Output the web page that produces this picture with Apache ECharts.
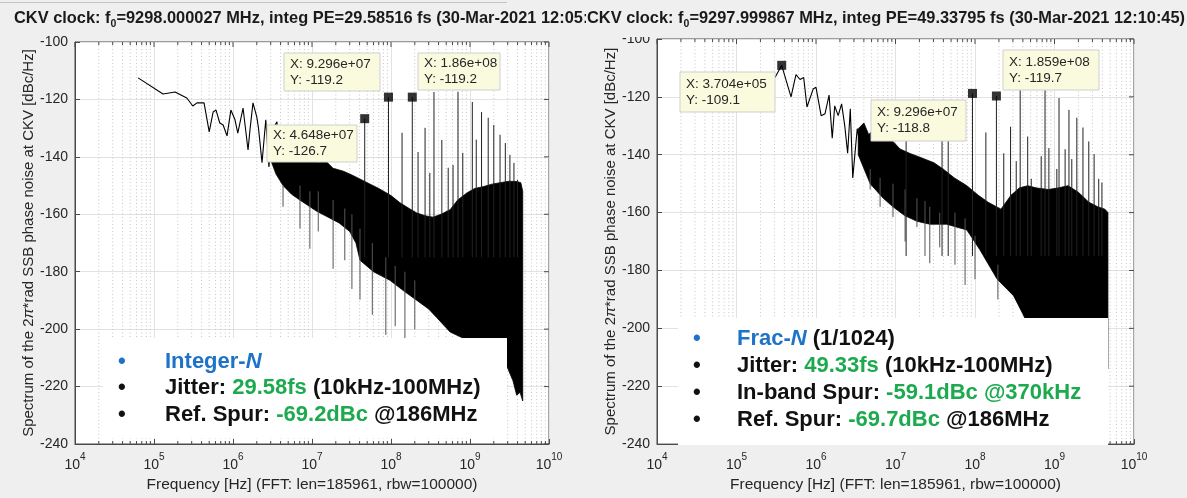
<!DOCTYPE html>
<html><head><meta charset="utf-8">
<script src="https://cdn.jsdelivr.net/npm/echarts@6/dist/echarts.min.js"></script>
<style>html,body{margin:0;padding:0;background:#efefef}#c{width:1187px;height:498px}</style>
</head><body><div id="c"></div>
<script>
// ---------- data (frequency in Hz, value in dBc/Hz) ----------
const xTickExponents = [4, 5, 6, 7, 8, 9, 10];
const minorMultipliers = [2, 3, 4, 5, 6, 7, 8, 9];
const yTickValues = [-240, -220, -200, -180, -160, -140, -120, -100];

// Integer-N (left)
const lowLineL = [[6.3e4,-112.5],[1.3e5,-118.1],[1.85e5,-117.4],[2.6e5,-119.5],[3.1e5,-122.3],[3.5e5,-121.2],[4.3e5,-121.2],[5.0e5,-131.3],[5.6e5,-124.4],[6.1e5,-123.7],[6.8e5,-128.2],[7.5e5,-128.9],[8.4e5,-132.7],[9.4e5,-123.7],[1.06e6,-127.1],[1.15e6,-131.7],[1.34e6,-123],[1.55e6,-137.6],[1.64e6,-130.6],[1.79e6,-121.2],[2.0e6,-126.1],[2.1e6,-129.9],[2.33e6,-142],[2.6e6,-127.1],[2.85e6,-143.5],[3.1e6,-131],[3.6e6,-127.8],[3.9e6,-145]];
const bandTopL = [[2.9e6,-136],[3.4e6,-134],[4.0e6,-139],[4.6e6,-136],[5.5e6,-140],[7e6,-139],[9e6,-141],[1.2e7,-142],[1.5e7,-141.5],[1.85e7,-144],[2.5e7,-145],[3.3e7,-146.5],[5e7,-149],[7e7,-151],[1e8,-153.5],[1.3e8,-156],[1.7e8,-158],[2.1e8,-159.5],[2.7e8,-160.5],[3.4e8,-161],[4.3e8,-160],[5.6e8,-158.4],[7e8,-155],[9.2e8,-152.5],[1.15e9,-151],[1.46e9,-150.4],[1.9e9,-149.5],[2.4e9,-149],[3.1e9,-148.5],[3.9e9,-148.6],[4.4e9,-149],[4.65e9,-152]];
const bandBotL = [[2.9e6,-140],[3.5e6,-146],[4.3e6,-150],[5.5e6,-153],[7e6,-155],[9e6,-157],[1.16e7,-159],[1.6e7,-161],[2.2e7,-163],[3e7,-166],[3.6e7,-170],[4.05e7,-176],[6e7,-180],[9.7e7,-183],[1.5e8,-187],[2.13e8,-190],[3e8,-193],[3.8e8,-196],[5.6e8,-201],[8e8,-203],[1.23e9,-204],[1.8e9,-207],[2.4e9,-210],[2.94e9,-213],[3.5e9,-218],[3.9e9,-223],[4.3e9,-222],[4.65e9,-225]];
const downSpikesL = [[4.3e6,-150,-157.4],[7.05e6,-150,-165],[9.4e6,-152,-172],[1.2e7,-152,-166],[1.85e7,-155,-179],[2.6e7,-158,-176],[3.2e7,-160,-186],[4.05e7,-165,-189.7],[5.8e7,-170,-195],[8.6e7,-175,-202],[1.13e8,-178,-199],[1.5e8,-180,-203.6],[2.0e8,-183,-200]];
const spursL = [[4.648e7,-126.7],[9.296e7,-119.2],[1.38e8,-131.6],[1.86e8,-119.2],[2.2e8,-138.3],[2.7e8,-129.9],[3.1e8,-145.6],[3.5e8,-117.4],[4.4e8,-134.1],[5.3e8,-143.8],[6.1e8,-142.8],[7.05e8,-117.4],[8.1e8,-138.6],[1.07e9,-120.9],[1.2e9,-134],[1.4e9,-124.4],[1.7e9,-126.4],[2.0e9,-128.9],[2.4e9,-132.3],[2.8e9,-135.2],[3.2e9,-139.3],[3.6e9,-142.1],[4.0e9,-148]];
const markersL = [[4.648e7,-126.7],[9.296e7,-119.2],[1.86e8,-119.2]];

// Frac-N (right)
const lowLineR = [[3.05e5,-113.3],[3.704e5,-109.1],[4.85e5,-120],[5.6e5,-112.3],[6.3e5,-114],[7.0e5,-113.3],[7.7e5,-123.5],[9.2e5,-117.3],[1.0e6,-116.7],[1.16e6,-126.5],[1.3e6,-125.8],[1.46e6,-119.4],[1.6e6,-134.3],[1.72e6,-123.1],[1.9e6,-126.5],[2.1e6,-122.4],[2.3e6,-130],[2.5e6,-139.5],[2.7e6,-124.1],[2.9e6,-148],[3.3e6,-131],[3.6e6,-137]];
const bandTopR = [[3.4e6,-131],[4e6,-129],[4.6e6,-133],[5.5e6,-131],[6.5e6,-134],[7.5e6,-132.5],[9e6,-135],[1.14e7,-138],[1.5e7,-139.5],[2.1e7,-141],[3.05e7,-142.8],[4e7,-145],[5.5e7,-148],[7.9e7,-150.7],[1.1e8,-154],[1.46e8,-156.4],[2.12e8,-158.8],[2.84e8,-154],[3.6e8,-151.5],[4.6e8,-150.7],[6e8,-151.5],[8.3e8,-152],[1.1e9,-151.5],[1.48e9,-150.7],[2e9,-153],[2.7e9,-156.4],[3.5e9,-158],[4.3e9,-158.8],[4.7e9,-160]];
const bandBotR = [[3.4e6,-140],[4.8e6,-150],[7e6,-155],[9.3e6,-158],[1.3e7,-161],[1.86e7,-163],[2.7e7,-164],[4.4e7,-164],[7.9e7,-166],[1.15e8,-172.8],[1.9e8,-183],[3.05e8,-188.7],[4.0e8,-195],[6e8,-205],[1e9,-212],[2e9,-214],[3e9,-214],[4.7e9,-214]];
const downSpikesR = [[4.8e6,-145,-152],[6.4e6,-148,-158],[9.3e6,-150,-161.5],[1.32e7,-152,-170],[1.86e7,-155,-165],[2.35e7,-156,-175],[2.7e7,-158,-177.5],[3.6e7,-160,-172],[5.6e7,-160,-178],[7.5e7,-162,-185],[1.0e8,-168,-183],[1.94e8,-178,-190]];
const spursR = [[1.36e7,-134.7],[3.85e7,-134.7],[4.6e7,-134.7],[9.296e7,-118.8],[1.37e8,-132.3],[1.859e8,-119.7],[2.3e8,-139.5],[2.8e8,-130.3],[3.3e8,-142.2],[3.7e8,-117.7],[4.6e8,-133.7],[5.1e8,-148.3],[6.8e8,-140.5],[7.6e8,-117.7],[8.5e8,-137.7],[1.07e9,-144.9],[1.14e9,-120.4],[1.36e9,-138.1],[1.52e9,-124.5],[1.65e9,-141.5],[1.91e9,-127.2],[2.28e9,-130.6],[2.7e9,-135.4],[3.15e9,-139.8],[3.6e9,-148.3],[3.95e9,-149.6]];
const markersR = [[3.704e5,-109.1],[9.296e7,-118.8],[1.859e8,-119.7]];

const spurFloor = -175;

// ---------- helpers ----------
const FONT = '"Liberation Sans", Arial, Helvetica, sans-serif';
const lg = Math.log10;
const toXY = p => [lg(p[0]), p[1]];
const mctx = document.createElement('canvas').getContext('2d');
function textW(t, font) { mctx.font = font; return mctx.measureText(t).width; }

const minorX = [];
for (let e = 4; e < 10; e++) for (const m of minorMultipliers) minorX.push(lg(m * Math.pow(10, e)));
const Y_MIN = yTickValues[0], Y_MAX = yTickValues[yTickValues.length - 1];
const X_MIN = xTickExponents[0], X_MAX = xTickExponents[xTickExponents.length - 1];

const grids = [
  {left: 75, top: 42, width: 474, height: 402},
  {left: 657, top: 39, width: 477, height: 409}
];

function makeAxes(i) {
  const x = {
    type: 'value', gridIndex: i, min: X_MIN, max: X_MAX, interval: 1,
    axisLine: {show: true, lineStyle: {color: '#4a4a4a', width: 1}},
    axisTick: {show: true, inside: true, length: 5, lineStyle: {color: '#4a4a4a'}},
    splitLine: {show: true, lineStyle: {color: '#e2e2e2', width: 1}},
    axisLabel: {
      margin: 8, color: '#262626',
      formatter: v => '{b|10}{s|' + v + '}',
      rich: {
        b: {fontSize: 14, fontFamily: FONT, color: '#262626', lineHeight: 20, verticalAlign: 'bottom'},
        s: {fontSize: 10, fontFamily: FONT, color: '#262626', lineHeight: 12, verticalAlign: 'top'}
      }
    },
    name: 'Frequency [Hz] (FFT: len=185961, rbw=100000)',
    nameLocation: 'middle', nameGap: 30,
    nameTextStyle: {fontSize: 15.5, fontFamily: FONT, color: '#262626'}
  };
  const y = {
    type: 'value', gridIndex: i, min: Y_MIN, max: Y_MAX, interval: 20,
    axisLine: {show: true, lineStyle: {color: '#4a4a4a', width: 1}},
    axisTick: {show: true, inside: true, length: 5, lineStyle: {color: '#4a4a4a'}},
    splitLine: {show: true, lineStyle: {color: '#e2e2e2', width: 1}},
    axisLabel: {margin: 7, fontSize: 14, fontFamily: FONT, color: '#262626'},
    name: 'Spectrum of the 2{i|π}*rad SSB phase noise at CKV [dBc/Hz]',
    nameLocation: 'middle', nameGap: 37,
    nameTextStyle: {fontSize: 15, fontFamily: FONT, color: '#262626',
      rich: {i: {fontSize: 15, fontFamily: FONT, fontStyle: 'italic', color: '#262626'}}}
  };
  return {x, y};
}

function vLineSeries(i, data, color, z) {
  return {
    type: 'custom', xAxisIndex: i, yAxisIndex: i, silent: true, z: z, clip: true,
    data: data, encode: {x: 0, y: 1},
    renderItem: (params, api) => {
      const a = api.coord([api.value(0), api.value(1)]);
      const b = api.coord([api.value(0), api.value(2)]);
      return {type: 'line', shape: {x1: a[0], y1: a[1], x2: b[0], y2: b[1]}, style: {stroke: color, lineWidth: 1}};
    }
  };
}

function panelSeries(i, lowLine, top, bot, spurs, downSpikes, markers) {
  const poly = top.map(toXY).concat(bot.slice().reverse().map(toXY));
  return [
    { // minor dotted grid + minor ticks
      type: 'custom', xAxisIndex: i, yAxisIndex: i, silent: true, z: 1,
      data: minorX.map(v => [v, Y_MIN]),
      encode: {x: 0, y: 1},
      renderItem: (params, api) => {
        const xv = api.value(0);
        const t = api.coord([xv, Y_MAX]), b = api.coord([xv, Y_MIN]);
        return {type: 'group', children: [
          {type: 'line', shape: {x1: t[0], y1: t[1], x2: b[0], y2: b[1]}, style: {stroke: '#b9b9b9', lineWidth: 0.8, lineDash: [1, 2.5]}},
          {type: 'line', shape: {x1: b[0], y1: b[1], x2: b[0], y2: b[1] - 3}, style: {stroke: '#4a4a4a', lineWidth: 1}},
          {type: 'line', shape: {x1: t[0], y1: t[1], x2: t[0], y2: t[1] + 3}, style: {stroke: '#4a4a4a', lineWidth: 1}}
        ]};
      }
    },
    { // major ticks on top and right frame
      type: 'custom', xAxisIndex: i, yAxisIndex: i, silent: true, z: 1,
      data: xTickExponents.map(v => [v, Y_MAX, 0]).concat(yTickValues.map(v => [X_MAX, v, 1])),
      encode: {x: 0, y: 1},
      renderItem: (params, api) => {
        const p = api.coord([api.value(0), api.value(1)]);
        const k = api.value(2);
        const shape = k === 0 ? {x1: p[0], y1: p[1], x2: p[0], y2: p[1] + 5} : {x1: p[0], y1: p[1], x2: p[0] - 5, y2: p[1]};
        return {type: 'line', shape, style: {stroke: '#4a4a4a', lineWidth: 1}};
      }
    },
    { // dense noise floor
      type: 'custom', xAxisIndex: i, yAxisIndex: i, silent: true, z: 2, clip: true,
      data: poly, encode: {x: 0, y: 1},
      renderItem: (params, api) => {
        if (params.dataIndex !== 0) return null;
        return {type: 'polygon', shape: {points: poly.map(p => api.coord(p))}, style: {fill: '#000', stroke: '#000', lineWidth: 0.8}};
      }
    },
    vLineSeries(i, downSpikes.map(p => [lg(p[0]), p[1], p[2]]), '#555', 2),
    vLineSeries(i, spurs.map(p => [lg(p[0]), p[1], spurFloor]), '#222', 3),
    { // low-offset trace
      type: 'line', xAxisIndex: i, yAxisIndex: i, z: 3, silent: true,
      data: lowLine.map(toXY), showSymbol: false, symbol: 'none',
      lineStyle: {color: '#000', width: 1.1}, animation: false
    },
    { // data-tip markers
      type: 'scatter', xAxisIndex: i, yAxisIndex: i, z: 4, silent: true,
      data: markers.map(toXY), symbol: 'rect', symbolSize: 9,
      itemStyle: {color: '#000'}
    }
  ];
}

const aL = makeAxes(0), aR = makeAxes(1);

function tip(x, y, w, h, l1, l2) {
  return {type: 'group', z: 90, children: [
    {type: 'rect', shape: {x: x, y: y, width: w, height: h}, style: {fill: '#fafadf', stroke: '#cfcfcf', lineWidth: 1}, z: 90},
    {type: 'text', x: x + 6, y: y + h / 2 - 8, style: {text: l1, font: '13.5px ' + FONT, fill: '#262626', verticalAlign: 'middle'}, z: 91},
    {type: 'text', x: x + 6, y: y + h / 2 + 8, style: {text: l2, font: '13.5px ' + FONT, fill: '#262626', verticalAlign: 'middle'}, z: 91}
  ]};
}

const BLUE = '#1e73c8', GREEN = '#1daa4f';
const LF = 'bold 22px ' + FONT;
const richL = {
  k: {fill: '#111', font: LF},
  g: {fill: GREEN, font: LF},
  b: {fill: BLUE, font: LF},
  bi: {fill: BLUE, font: 'italic bold 22px ' + FONT}
};
function legendLine(x, y, text, bulletColor, bx) {
  return [
    {type: 'text', x: bx, y: y, z: 96, style: {text: '•', font: LF, fill: bulletColor, verticalAlign: 'middle'}},
    {type: 'text', x: x, y: y, z: 96, style: {text: text, rich: richL, font: LF, fill: '#111', verticalAlign: 'middle'}}
  ];
}

function titleParts(x, y, pre, sub, post, z) {
  const f = 'bold 16.4px ' + FONT;
  const fs = 'bold 10.5px ' + FONT;
  const w = textW(pre, f);
  const w2 = textW(sub, fs);
  return [
    {type: 'text', x: x, y: y, z: z, style: {text: pre, font: f, fill: '#1a1a1a', verticalAlign: 'middle'}},
    {type: 'text', x: x + w, y: y + 6, z: z, style: {text: sub, font: fs, fill: '#1a1a1a', verticalAlign: 'middle'}},
    {type: 'text', x: x + w + w2, y: y, z: z, style: {text: post, font: f, fill: '#1a1a1a', verticalAlign: 'middle'}}
  ];
}

const graphic = [
  {type: 'line', z: 40, shape: {x1: 0, y1: 2.5, x2: 507, y2: 2.5}, style: {stroke: '#c4c4c4', lineWidth: 1}},
  ...titleParts(14, 18, 'CKV clock: f', '0', '=9298.000027 MHz, integ PE=29.58516 fs (30-Mar-2021 12:05:38)', 49),
  {type: 'rect', z: 50, shape: {x: 586, y: 0, width: 601, height: 37}, style: {fill: '#efefef'}},
  ...titleParts(587, 18, 'CKV clock: f', '0', '=9297.999867 MHz, integ PE=49.33795 fs (30-Mar-2021 12:10:45)', 51),
  tip(267, 125, 90, 37, 'X: 4.648e+07', 'Y: -126.7'),
  tip(284, 53, 96, 38, 'X: 9.296e+07', 'Y: -119.2'),
  tip(418, 53, 82, 37, 'X: 1.86e+08', 'Y: -119.2'),
  tip(680, 72, 95, 40, 'X: 3.704e+05', 'Y: -109.1'),
  tip(871, 100, 95, 41, 'X: 9.296e+07', 'Y: -118.8'),
  tip(1003, 50, 96, 40, 'X: 1.859e+08', 'Y: -119.7'),
  {type: 'rect', z: 95, shape: {x: 103, y: 338, width: 404, height: 100}, style: {fill: '#fff'}},
  ...legendLine(165, 362, '{b|Integer-}{bi|N}', BLUE, 118),
  ...legendLine(165, 388, '{k|Jitter: }{g|29.58fs}{k| (10kHz-100MHz)}', '#111', 118),
  ...legendLine(165, 415, '{k|Ref. Spur: }{g|-69.2dBc}{k| @186MHz}', '#111', 118),
  {type: 'rect', z: 95, shape: {x: 678, y: 318, width: 430, height: 127}, style: {fill: '#fff'}},
  ...legendLine(737, 339, '{b|Frac-}{bi|N}{k| (1/1024)}', BLUE, 693),
  ...legendLine(737, 366, '{k|Jitter: }{g|49.33fs}{k| (10kHz-100MHz)}', '#111', 693),
  ...legendLine(737, 393, '{k|In-band Spur: }{g|-59.1dBc @370kHz}', '#111', 693),
  ...legendLine(737, 420, '{k|Ref. Spur: }{g|-69.7dBc}{k| @186MHz}', '#111', 693)
];

const chart = echarts.init(document.getElementById('c'), null, {renderer: 'canvas'});
chart.setOption({
  animation: false,
  backgroundColor: '#efefef',
  grid: grids.map(g => Object.assign({show: true, backgroundColor: '#ffffff', borderColor: '#4a4a4a', borderWidth: 1, containLabel: false}, g)),
  xAxis: [aL.x, aR.x],
  yAxis: [aL.y, aR.y],
  series: [
    ...panelSeries(0, lowLineL, bandTopL, bandBotL, spursL, downSpikesL, markersL),
    ...panelSeries(1, lowLineR, bandTopR, bandBotR, spursR, downSpikesR, markersR)
  ],
  graphic: graphic
});
</script></body></html>
